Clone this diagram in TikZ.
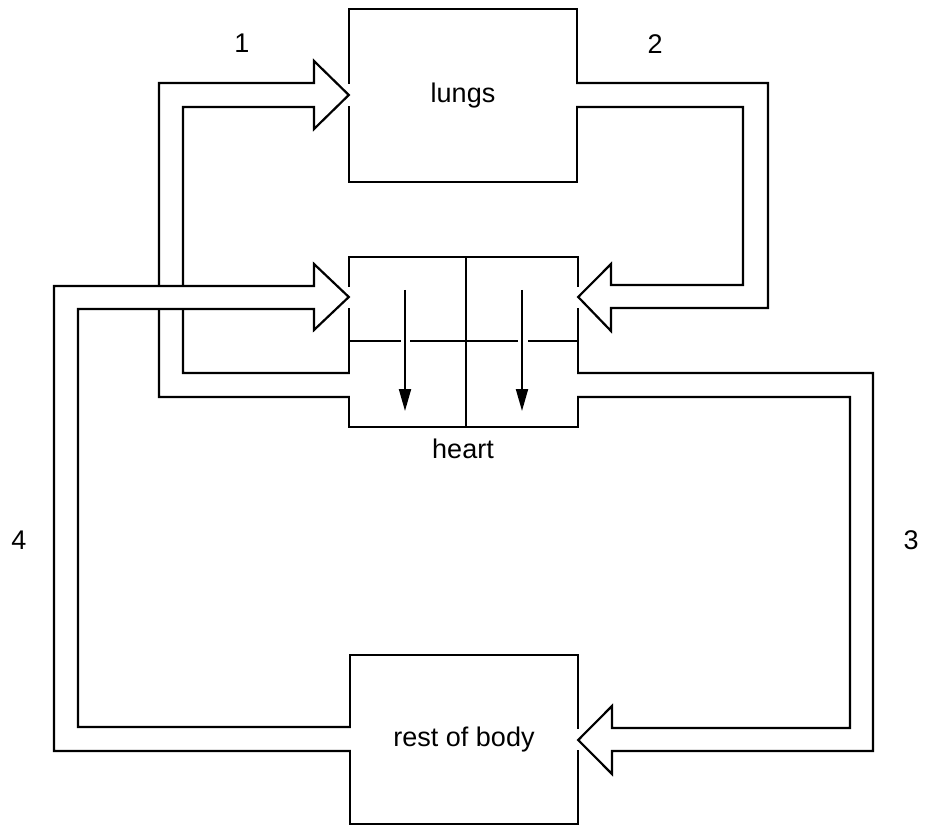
\documentclass[tikz,border=0pt]{standalone}
\usepackage{fontspec}
\setmainfont{Liberation Sans}
\usetikzlibrary{arrows.meta}
\begin{document}
\begin{tikzpicture}[x=1pt,y=-1pt,
  lbl/.style={font=\fontsize{27}{30}\selectfont, inner sep=0pt},
  organ/.style={lbl, minimum width=228pt, minimum height=172pt},
  outline/.style={draw=black, line width=2.2pt, line cap=rect},
  vessel/.style={draw=black, line width=2.2pt, line cap=rect, line join=miter},
  flow/.style={-{Triangle[length=22pt,width=12pt]}, line width=2pt}]
\useasboundingbox (0,0) rectangle (926,826);

% organs
\node[organ, minimum height=173pt] (lungs) at (463,95.5) {lungs};
\node[organ, minimum width=229pt, minimum height=170pt] (heart) at (463.5,342) {};
\node[lbl] (heartlbl) at (463,449) {heart};
\node[organ, minimum height=169pt] (body) at (464,739.5) {rest of body};

% numbers
\node[lbl] (n1) at (242,43) {1};
\node[lbl] (n2) at (655,44) {2};
\node[lbl] (n3) at (911,540) {3};
\node[lbl] (n4) at (19,540) {4};

% vessel 1: heart -> lungs
\draw[vessel] (heart.west |- 0,397) -- (159,397) -- (159,83) -- (314,83) -- (314,61)
  -- (lungs.west |- 0,95) -- (314,129) -- (314,107) -- (183,107) -- (183,373)
  -- (heart.west |- 0,373);

% vessel 2: lungs -> heart
\draw[vessel] (lungs.east |- 0,83) -- (768,83) -- (768,308) -- (611,308) -- (611,331)
  -- (heart.east |- 0,297) -- (611,264) -- (611,285) -- (743,285) -- (743,107)
  -- (lungs.east |- 0,107);

% vessel 3: heart -> rest of body
\draw[vessel] (heart.east |- 0,373) -- (873,373) -- (873,751) -- (612,751) -- (612,774)
  -- (body.east |- 0,740) -- (612,706) -- (612,728) -- (850,728) -- (850,397)
  -- (heart.east |- 0,397);

% vessel 4: rest of body -> heart (passes over vessel 1)
\draw[vessel, fill=white] (body.west |- 0,727) -- (78,727) -- (78,309) -- (314,309) -- (314,330)
  -- (heart.west |- 0,297) -- (314,264) -- (314,286) -- (54,286) -- (54,751)
  -- (body.west |- 0,751);

% lungs outline
\draw[outline] (lungs.west |- 0,83) -- (lungs.north west) -- (lungs.north east) -- (lungs.east |- 0,83);
\draw[outline] (lungs.east |- 0,107) -- (lungs.south east) -- (lungs.south west) -- (lungs.west |- 0,107);

% heart outline
\draw[outline] (heart.west |- 0,286) -- (heart.north west) -- (heart.north east) -- (heart.east |- 0,286);
\draw[outline] (heart.east |- 0,309) -- (heart.east |- 0,373);
\draw[outline] (heart.east |- 0,397) -- (heart.south east) -- (heart.south west) -- (heart.west |- 0,397);
\draw[outline] (heart.west |- 0,373) -- (heart.west |- 0,309);
\draw[outline] ([xshift=2.5pt]heart.north) -- ([xshift=2.5pt]heart.south);
\draw[outline] (heart.west |- 0,341) -- (400,341) (411,341) -- (517,341) (529,341) -- (heart.east |- 0,341);
\coordinate (la) at (405,290);
\coordinate (lb) at (405,411);
\coordinate (ra) at (522,290);
\coordinate (rb) at (522,411);
\draw[flow] (la) -- (lb);
\draw[flow] (ra) -- (rb);

% rest of body outline
\draw[outline] (body.west |- 0,727) -- (body.north west) -- (body.north east) -- (body.east |- 0,728);
\draw[outline] (body.east |- 0,751) -- (body.south east) -- (body.south west) -- (body.west |- 0,751);
\end{tikzpicture}
\end{document}
